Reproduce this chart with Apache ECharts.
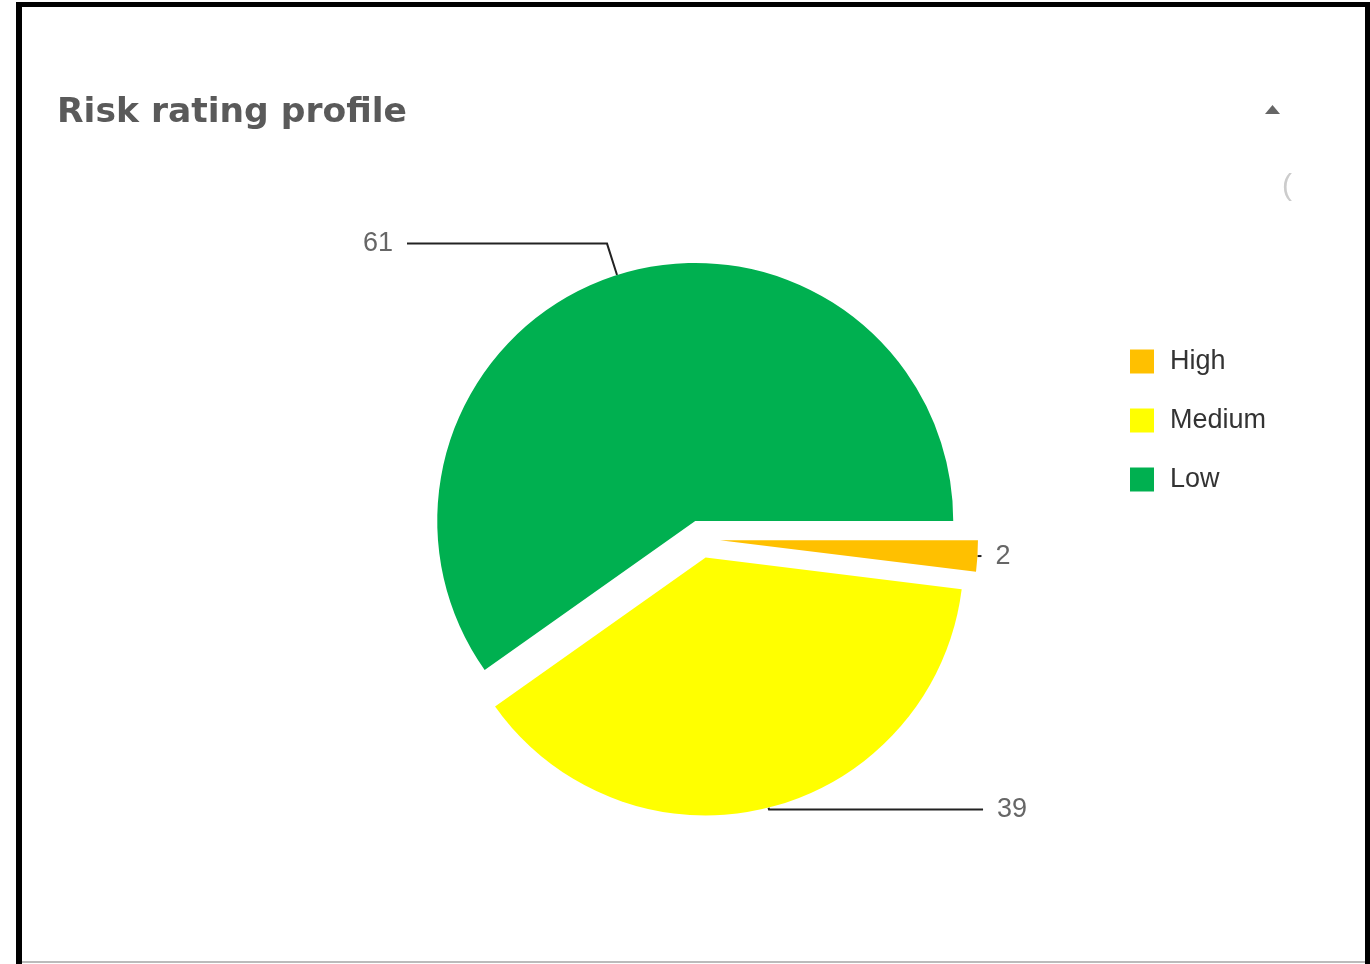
<!DOCTYPE html>
<html>
<head>
<meta charset="utf-8">
<script src="https://cdn.jsdelivr.net/npm/echarts@6/dist/echarts.min.js"></script>
<style>
  html, body { margin: 0; padding: 0; background: #fff; }
  #chart { width: 1370px; height: 964px; }
</style>
</head>
<body>
<div id="chart"></div>
<script>
const categories = ['High', 'Medium', 'Low'];
const values = [2, 39, 61];
const colors = ['#FFC000', '#FFFF00', '#00B050'];
const labelLineLen = [0, 2, 33];
const labelLineLen2 = [4, 214, 200];

const chart = echarts.init(document.getElementById('chart'));

const pieData = categories.map((name, i) => ({
  name: name,
  value: values[i],
  selected: true,
  itemStyle: { color: colors[i] },
  labelLine: { length: labelLineLen[i], length2: labelLineLen2[i] }
}));

chart.setOption({
  animation: false,
  backgroundColor: '#ffffff',
  title: {
    text: 'Risk rating profile',
    left: 57,
    top: 96,
    padding: 0,
    textStyle: {
      fontFamily: 'DejaVu Sans',
      fontWeight: 'bold',
      fontSize: 34.5,
      color: '#5a5a5a'
    }
  },
  legend: {
    orient: 'vertical',
    left: 1125,
    top: 343,
    icon: 'rect',
    itemWidth: 24,
    itemHeight: 24,
    itemGap: 32,
    selectedMode: false,
    data: categories,
    textStyle: {
      fontFamily: 'Liberation Sans',
      fontSize: 27,
      color: '#333333',
      padding: [0, 0, 0, 11]
    }
  },
  graphic: [
    { type: 'rect', shape: { x: 16, y: 2, width: 6, height: 962 }, style: { fill: '#000' }, silent: true },
    { type: 'rect', shape: { x: 16, y: 2, width: 1354, height: 5 }, style: { fill: '#000' }, silent: true },
    { type: 'rect', shape: { x: 1365, y: 2, width: 5, height: 962 }, style: { fill: '#000' }, silent: true },
    { type: 'rect', shape: { x: 22, y: 961, width: 1343, height: 2 }, style: { fill: '#bbbbbb' }, silent: true },
    { type: 'polygon', shape: { points: [[1265, 114], [1280, 114], [1272.5, 105]] }, style: { fill: '#666666' }, silent: true },
    { type: 'text', x: 1282, y: 187, style: { text: '(', fontSize: 30, fontFamily: 'Liberation Sans', fill: '#cccccc', verticalAlign: 'middle' }, silent: true }
  ],
  series: [{
    type: 'pie',
    center: [701, 539],
    radius: 258,
    startAngle: 0,
    clockwise: true,
    selectedMode: 'multiple',
    selectedOffset: 19,
    avoidLabelOverlap: false,
    emphasis: { disabled: true, scale: false },
    select: { itemStyle: { borderWidth: 0 } },
    itemStyle: { borderWidth: 0 },
    label: {
      show: true,
      formatter: '{c}',
      fontFamily: 'Liberation Sans',
      fontSize: 27,
      color: '#666666',
      distanceToLabelLine: 14
    },
    labelLine: {
      show: true,
      lineStyle: { color: '#222222', width: 2 }
    },
    data: pieData
  }]
});
</script>
</body>
</html>
